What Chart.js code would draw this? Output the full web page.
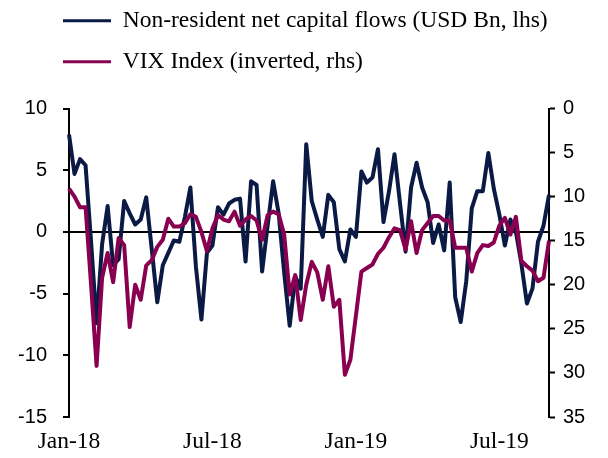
<!DOCTYPE html>
<html><head><meta charset="utf-8">
<script src="https://cdn.jsdelivr.net/npm/chart.js@4.4.0/dist/chart.umd.min.js"></script>
<style>html,body{margin:0;padding:0;background:#fff;}</style>
</head><body>
<canvas id="c" width="608" height="458"></canvas>
<script>
const seriesNames = ['Non-resident net capital flows (USD Bn, lhs)', 'VIX Index (inverted, rhs)'];
const flows = [7.9, 4.7, 5.9, 5.4, -0.8, -7.4, -1.0, 2.1, -2.7, -2.2,
  2.5, 1.5, 0.6, 1.0, 2.8, -1.4, -5.7, -2.7, -1.7, -0.7,
  -0.8, 1.2, 3.6, -2.8, -7.1, -1.7, -1.1, 2.0, 1.4, 2.3,
  2.6, 2.7, -2.4, 4.1, 3.8, -3.2, 0.5, 4.1, 1.5, -3.3,
  -7.6, -3.6, -4.6, 7.1, 2.5, 1.0, -0.4, 3.0, 2.4, -1.4,
  -2.4, 0.2, -0.4, 4.9, 4.0, 4.4, 6.7, 0.8, 3.3, 6.3,
  2.3, -1.6, 3.6, 5.6, 3.6, 2.4, -0.9, 0.6, -1.5, 4.0,
  -5.3, -7.3, -4.0, 1.9, 3.3, 3.3, 6.4, 3.5, 1.4, -1.1,
  1.0, 0.0, -2.6, -5.8, -4.6, -0.8, 0.5, 3.0];
const vix = [9.1, 10.0, 11.2, 11.2, 20.0, 29.2, 19.2, 16.4, 19.7, 14.7,
  15.5, 24.8, 20.0, 21.7, 17.8, 17.2, 15.7, 14.9, 12.5, 13.4,
  13.4, 13.0, 12.0, 12.3, 14.0, 16.2, 13.6, 12.1, 12.6, 12.8,
  11.7, 13.3, 12.6, 12.2, 12.7, 14.9, 12.1, 11.7, 12.0, 14.3,
  21.1, 18.9, 24.0, 20.0, 17.4, 18.6, 21.7, 17.9, 22.5, 21.7,
  30.2, 28.5, 23.5, 18.5, 18.1, 17.7, 16.5, 15.8, 14.6, 13.6,
  13.8, 16.0, 12.8, 16.4, 13.8, 13.0, 12.2, 12.2, 12.7, 12.7,
  15.8, 15.8, 15.8, 18.5, 16.4, 15.5, 15.6, 15.2, 13.3, 12.4,
  14.3, 12.3, 17.3, 17.9, 18.4, 19.6, 19.2, 15.0];
const tickWeeks = [0, 26, 52, 78];
const tickLabels = ['Jan-18', 'Jul-18', 'Jan-19', 'Jul-19'];
const leftTicks = [-15, -10, -5, 0, 5, 10];
const rightTicks = [0, 5, 10, 15, 20, 25, 30, 35];

const categories = flows.map((_, i) => {
  const k = tickWeeks.indexOf(i);
  return k >= 0 ? tickLabels[k] : '';
});

const NAVY = '#0b1a44';
const PLUM = '#890050';

const legendShift = {
  id: 'legendShift',
  afterLayout(chart) {
    const lg = chart.legend;
    if (!lg) return;
    const dx = 45.5 - lg.left, dy = -8.5 - lg.top;
    lg.left += dx; lg.right += dx; lg.top += dy; lg.bottom += dy;
  }
};

new Chart(document.getElementById('c'), {
  type: 'line',
  data: {
    labels: categories,
    datasets: [
      { label: seriesNames[0], data: flows, yAxisID: 'yL', borderColor: NAVY, backgroundColor: NAVY,
        borderWidth: 4, pointRadius: 0, tension: 0, order: 1, borderJoinStyle: 'round' },
      { label: seriesNames[1], data: vix, yAxisID: 'yR', borderColor: PLUM, backgroundColor: PLUM,
        borderWidth: 4, pointRadius: 0, tension: 0, order: 0, borderJoinStyle: 'round' }
    ]
  },
  options: {
    responsive: false,
    animation: false,
    devicePixelRatio: 1,
    layout: { padding: { top: 16.5, left: 0, right: 0, bottom: 0 } },
    plugins: {
      tooltip: { enabled: false },
      legend: {
        position: 'top',
        align: 'start',
        labels: {
          font: { family: 'Liberation Serif', size: 23.5 },
          color: '#000',
          boxWidth: 48,
          boxHeight: 3,
          padding: 17.5,
          sort: (a, b) => a.datasetIndex - b.datasetIndex,
          generateLabels: (chart) => Chart.defaults.plugins.legend.labels.generateLabels(chart)
            .map(l => Object.assign(l, { lineWidth: 0, fillStyle: l.strokeStyle }))
        }
      }
    },
    scales: {
      x: {
        type: 'category',
        offset: false,
        grid: { display: false, drawTicks: false },
        border: { display: false },
        ticks: {
          autoSkip: false, maxRotation: 0, minRotation: 0, padding: 11,
          color: '#000', font: { family: 'Liberation Serif', size: 23.5 }
        },
        afterFit: (s) => { s.height = 41; }
      },
      yL: {
        position: 'left',
        min: -15, max: 10,
        afterBuildTicks: (s) => { s.ticks = leftTicks.map(v => ({ value: v })); },
        grid: {
          drawOnChartArea: true, drawTicks: true, tickLength: 6,
          color: (ctx) => (ctx.tick && ctx.tick.value === 0) ? '#000' : 'rgba(0,0,0,0)',
          lineWidth: 2, tickColor: '#000', tickWidth: 2
        },
        border: { display: true, color: '#000', width: 2 },
        ticks: { color: '#000', padding: 16, font: { family: 'Liberation Sans', size: 20 } },
        afterFit: (s) => { s.width = 69; }
      },
      yR: {
        position: 'right',
        reverse: true,
        min: 0, max: 35,
        afterBuildTicks: (s) => { s.ticks = rightTicks.map(v => ({ value: v })); },
        grid: { drawOnChartArea: false, drawTicks: true, tickLength: 6, tickColor: '#000', tickWidth: 2 },
        border: { display: true, color: '#000', width: 2 },
        ticks: { color: '#000', padding: 8, font: { family: 'Liberation Sans', size: 20 } },
        afterFit: (s) => { s.width = 59; }
      }
    }
  },
  plugins: [legendShift]
});
</script>
</body></html>
